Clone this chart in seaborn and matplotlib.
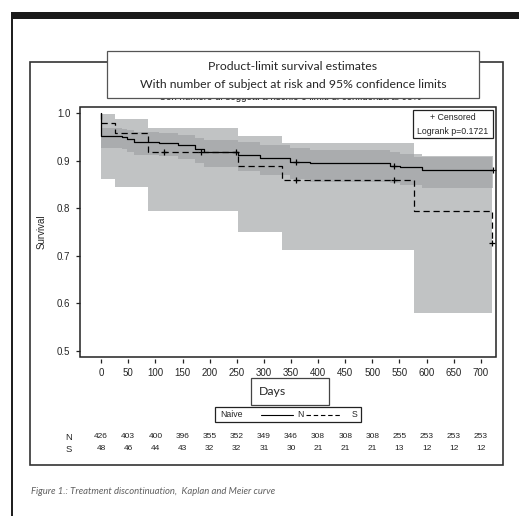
import numpy as np
import pandas as pd
import matplotlib
matplotlib.use("Agg")
import matplotlib.pyplot as plt
from matplotlib.patches import Rectangle
from matplotlib.lines import Line2D
import seaborn as sns

# ---------------- data ----------------
n_times = [0, 0, 38, 47, 61, 106, 142, 173, 190, 252, 293, 348, 385, 532, 551, 591, 722]
n_surv = [1.0, 0.951, 0.949, 0.945, 0.940, 0.937, 0.932, 0.925, 0.919, 0.912, 0.905,
          0.898, 0.894, 0.889, 0.886, 0.880, 0.880]
n_ci_times = [0, 38, 47, 61, 106, 142, 173, 190, 252, 293, 348, 385, 532, 551, 591, 722]
n_lower = [0.927, 0.924, 0.918, 0.912, 0.909, 0.903, 0.894, 0.886, 0.878, 0.870, 0.862,
           0.855, 0.852, 0.848, 0.843, 0.843]
n_upper = [0.968, 0.967, 0.964, 0.960, 0.958, 0.954, 0.948, 0.943, 0.938, 0.932, 0.927,
           0.923, 0.917, 0.914, 0.909, 0.909]
n_censor = [248, 359, 540, 722]

s_times = [0, 0, 26, 87, 253, 333, 577, 720]
s_surv = [1.0, 0.979, 0.958, 0.917, 0.888, 0.859, 0.793, 0.727]
s_ci_times = [0, 26, 87, 253, 333, 577, 720]
s_lower = [0.862, 0.845, 0.794, 0.749, 0.711, 0.579, 0.579]
s_upper = [0.998, 0.988, 0.968, 0.952, 0.936, 0.908, 0.908]
s_censor = [115, 184, 359, 540, 720]

x_ticks = [0, 50, 100, 150, 200, 250, 300, 350, 400, 450, 500, 550, 600, 650, 700]
y_ticks = [0.5, 0.6, 0.7, 0.8, 0.9, 1.0]
risk_N = [426, 403, 400, 396, 355, 352, 349, 346, 308, 308, 308, 255, 253, 253, 253]
risk_S = [48, 46, 44, 43, 32, 32, 31, 30, 21, 21, 21, 13, 12, 12, 12]

title_lines = ["Product-limit survival estimates",
               "With number of subject at risk and 95% confidence limits"]
hidden_subtitle = "Con numero di soggetti a rischio e limiti di confidenza al 95%"
caption = "Figure 1.: Treatment discontinuation,  Kaplan and Meier curve"

# ---------------- style ----------------
sns.set_style("white")
plt.rcParams["font.family"] = ["Liberation Sans", "DejaVu Sans"]

W, H = 519, 516
fig = plt.figure(figsize=(W / 100, H / 100), dpi=100)
fig.patch.set_facecolor("white")


def fx(x):
    return x / W


def fy(y):
    return 1 - y / H


def frect(x0, y0, x1, y1, **kw):
    r = Rectangle((fx(x0), fy(y1)), fx(x1) - fx(x0), fy(y0) - fy(y1),
                  transform=fig.transFigure, **kw)
    fig.add_artist(r)
    return r


# page decorations
frect(11, 12, 519, 19, facecolor="#1a1a1a", edgecolor="none", zorder=1)
fig.add_artist(Line2D([fx(11.5), fx(11.5)], [fy(19), fy(516)], transform=fig.transFigure,
                      color="#1a1a1a", lw=1.4, zorder=1))
frect(30, 62, 503, 465, facecolor="none", edgecolor="#333333", lw=1.2, zorder=1)

# axes
ax = fig.add_axes([fx(80), fy(357), fx(496) - fx(80), fy(107) - fy(357)])
ax.set_facecolor("white")

band_color = "#9da0a2"
band_alpha = 0.63
ax.fill_between(s_ci_times, s_lower, s_upper, step="post", color=band_color,
                alpha=band_alpha, lw=0, zorder=1)
ax.fill_between(n_ci_times, n_lower, n_upper, step="post", color=band_color,
                alpha=band_alpha, lw=0, zorder=1)

df_n = pd.DataFrame({"Days": n_times, "Survival": n_surv})
df_s = pd.DataFrame({"Days": s_times, "Survival": s_surv})
sns.lineplot(data=df_n, x="Days", y="Survival", drawstyle="steps-post", sort=False,
             estimator=None, color="black", lw=0.9, ax=ax, zorder=3)
sns.lineplot(data=df_s, x="Days", y="Survival", drawstyle="steps-post", sort=False,
             estimator=None, color="black", lw=0.9, linestyle=(0, (5, 3)), ax=ax, zorder=3)


def step_value(times, surv, t):
    idx = np.searchsorted(np.asarray(times), t, side="right") - 1
    return np.asarray(surv)[idx]


n_cy = [step_value(n_times, n_surv, t) for t in n_censor]
s_cy = [step_value(s_times, s_surv, t) for t in s_censor]
sns.scatterplot(x=n_censor, y=n_cy, marker="+", color="black", s=18, linewidth=0.9,
                ax=ax, zorder=4)
sns.scatterplot(x=s_censor, y=s_cy, marker="+", color="black", s=18, linewidth=0.9,
                ax=ax, zorder=4)

ax.set_xlim(-39, 728)
ax.set_ylim(0.487, 1.0126)
ax.set_xticks(x_ticks)
ax.set_xticklabels([str(t) for t in x_ticks])
ax.set_yticks(y_ticks)
ax.set_yticklabels([f"{v:.1f}" for v in y_ticks])
ax.set_xlabel("")
ax.set_ylabel("Survival", fontsize=7, labelpad=7)
for sp in ax.spines.values():
    sp.set_visible(False)
ax.spines["bottom"].set_position(("outward", 1.5))
ax.add_patch(Rectangle((0, 0), 1, 1, transform=ax.transAxes, fill=False,
                       edgecolor="#222222", lw=1.1, clip_on=False, zorder=5))
ax.tick_params(axis="both", which="both", direction="out", length=3, width=0.9,
               color="#222222", labelsize=7, bottom=True, left=True, pad=4)
ax.tick_params(axis="x", pad=3.5)

# censored / logrank box
frect(413, 110, 493, 138, facecolor="white", edgecolor="#222222", lw=0.9, zorder=6)
fig.text(fx(453), fy(117), "+ Censored", ha="center", va="center", fontsize=6.3, zorder=7)
fig.text(fx(453), fy(131), "Logrank p=0.1721", ha="center", va="center", fontsize=6.3, zorder=7)

# hidden subtitle and title box
fig.text(fx(290), fy(97.5), hidden_subtitle, ha="center", va="center", fontsize=7,
         color="#222222", zorder=2)
frect(107, 51, 479, 98, facecolor="white", edgecolor="#555555", lw=0.9, zorder=8)
fig.text(fx(293), fy(67), title_lines[0], ha="center", va="center", fontsize=8.8,
         family=["Lato", "DejaVu Sans"], zorder=9)
fig.text(fx(293), fy(85), title_lines[1], ha="center", va="center", fontsize=8.8,
         family=["Lato", "DejaVu Sans"], zorder=9)

# Days box
frect(251, 378, 329, 405, facecolor="white", edgecolor="#444444", lw=0.9, zorder=6)
fig.text(fx(259), fy(391.5), "Days", ha="left", va="center", fontsize=8.8,
         family=["Lato", "DejaVu Sans"], zorder=7)

# legend box
frect(215, 407, 361, 422, facecolor="white", edgecolor="#222222", lw=0.9, zorder=6)
fig.text(fx(220), fy(414.5), "Naive", ha="left", va="center", fontsize=6.3, zorder=7)
fig.add_artist(Line2D([fx(261), fx(293)], [fy(414.5), fy(414.5)], transform=fig.transFigure,
                      color="black", lw=0.8, zorder=7))
fig.text(fx(297), fy(414.5), "N", ha="left", va="center", fontsize=6.3, zorder=7)
fig.add_artist(Line2D([fx(306), fx(342)], [fy(414.5), fy(414.5)], transform=fig.transFigure,
                      color="black", lw=0.8, linestyle=(0, (4, 2.5)), zorder=7))
fig.text(fx(352), fy(414.5), "S", ha="left", va="center", fontsize=6.3, zorder=7)

# risk table (aligned with the x axis scale)
fig.canvas.draw()
for t, nv, sv in zip(x_ticks, risk_N, risk_S):
    xd, _ = ax.transData.transform((t, 0.5))
    xf = fig.transFigure.inverted().transform((xd, 0))[0]
    fig.text(xf, fy(437), str(nv), ha="center", va="center", fontsize=6, color="#222222")
    fig.text(xf, fy(449), str(sv), ha="center", va="center", fontsize=6, color="#222222")
fig.text(fx(69), fy(437), "N", ha="center", va="center", fontsize=6.8)
fig.text(fx(69), fy(449), "S", ha="center", va="center", fontsize=6.8)

# caption
fig.text(fx(31), fy(492), caption, ha="left", va="center", fontsize=6.8, style="italic",
         color="#606060", family=["Lato", "DejaVu Sans"])

fig.savefig("out.png", dpi=100, facecolor="white")
